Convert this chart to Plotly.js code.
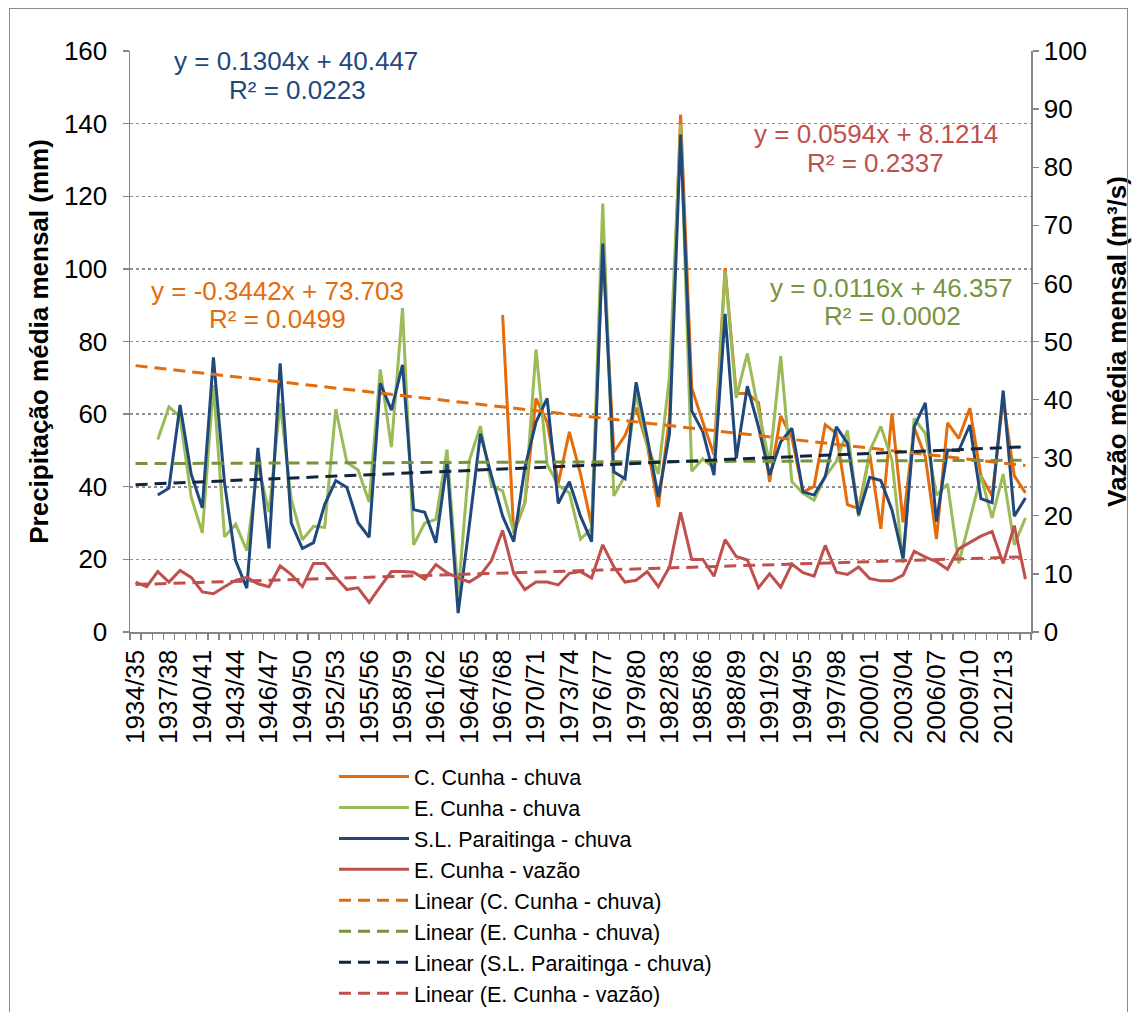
<!DOCTYPE html>
<html>
<head>
<meta charset="utf-8">
<script src="https://cdn.plot.ly/plotly-3.0.1.min.js"></script>
<style>
html,body{margin:0;padding:0;background:#ffffff;}
#chart{position:absolute;left:0;top:0;width:1132px;height:1012px;}
#frame{position:absolute;left:9px;top:8px;width:1117px;height:1010px;border:1px solid #8c8c8c;pointer-events:none;}
</style>
</head>
<body>
<div id="chart"></div>
<div id="frame"></div>
<script>
// ---------- DATA ----------
const categories = [
"1934/35","1935/36","1936/37","1937/38","1938/39","1939/40","1940/41","1941/42","1942/43","1943/44",
"1944/45","1945/46","1946/47","1947/48","1948/49","1949/50","1950/51","1951/52","1952/53","1953/54",
"1954/55","1955/56","1956/57","1957/58","1958/59","1959/60","1960/61","1961/62","1962/63","1963/64",
"1964/65","1965/66","1966/67","1967/68","1968/69","1969/70","1970/71","1971/72","1972/73","1973/74",
"1974/75","1975/76","1976/77","1977/78","1978/79","1979/80","1980/81","1981/82","1982/83","1983/84",
"1984/85","1985/86","1986/87","1987/88","1988/89","1989/90","1990/91","1991/92","1992/93","1993/94",
"1994/95","1995/96","1996/97","1997/98","1998/99","1999/00","2000/01","2001/02","2002/03","2003/04",
"2004/05","2005/06","2006/07","2007/08","2008/09","2009/10","2010/11","2011/12","2012/13","2013/14",
"2014/15"];

// C. Cunha - chuva (mm), starts 1967/68
const cCunhaChuva = [
null,null,null,null,null,null,null,null,null,null,
null,null,null,null,null,null,null,null,null,null,
null,null,null,null,null,null,null,null,null,null,
null,null,null,87.3,27.2,35.6,64.3,57.8,40.9,55.1,
43.5,29.3,106.0,49.5,54.1,61.8,51.4,34.4,59.3,142.5,
67.2,57.8,48.8,100.2,65.7,65.7,63.2,41.4,59.5,53.5,
38.5,40.1,57.1,54.7,35.1,34.0,49.0,28.4,60.2,30.2,
56.3,48.3,25.6,57.6,53.3,61.6,43.0,37.5,64.0,43.0,
38.3];

// E. Cunha - chuva (mm)
const eCunhaChuva = [
null,null,53.0,62.0,59.3,37.2,27.3,68.0,26.2,29.7,
22.4,46.0,33.0,63.0,36.5,25.4,29.1,28.8,61.4,46.7,
44.6,35.8,72.3,50.9,89.2,24.0,30.0,31.0,50.2,10.3,
47.2,56.7,40.4,38.8,27.7,35.6,77.8,46.2,40.4,38.3,
25.6,28.5,118.0,37.5,43.0,65.7,51.4,43.5,70.4,139.8,
44.3,47.7,45.1,99.4,64.5,76.7,61.0,46.4,76.0,41.4,
38.2,36.3,42.8,47.0,55.5,31.8,49.8,56.6,47.3,19.0,
58.8,54.7,37.7,40.8,18.9,31.2,43.0,31.4,43.5,24.0,
31.4];

// S.L. Paraitinga - chuva (mm)
const slParaitingaChuva = [
null,null,37.7,39.6,62.5,43.5,34.2,75.6,41.0,19.6,
12.1,50.7,23.0,74.0,30.0,23.0,24.6,35.1,41.7,39.8,
30.1,26.1,68.5,61.1,73.6,33.7,33.0,24.6,46.7,5.2,
29.3,54.6,43.0,31.9,24.9,45.3,57.8,64.3,35.4,41.4,
31.9,24.9,107.0,44.1,42.2,68.8,53.5,37.2,54.6,137.0,
60.9,55.1,43.2,87.6,47.8,67.7,56.5,43.2,52.4,56.1,
38.6,37.7,42.8,56.5,52.0,32.3,42.6,41.7,33.6,20.3,
56.5,63.1,30.4,50.1,49.9,57.0,36.7,35.6,66.5,31.9,
36.9];

// E. Cunha - vazão (m3/s), right axis
const eCunhaVazao = [
8.6,7.8,10.4,8.6,10.6,9.4,6.9,6.6,7.8,8.9,
9.4,8.3,7.8,11.4,9.9,7.8,11.8,11.8,9.4,7.3,
7.6,5.1,7.8,10.4,10.4,10.3,9.1,11.6,10.2,9.3,
8.6,9.8,12.3,17.5,10.1,7.3,8.6,8.6,8.1,10.1,
10.4,9.3,15.0,11.2,8.6,8.9,10.4,7.8,11.2,20.6,
12.5,12.5,9.6,15.9,13.0,12.4,7.6,10.0,7.7,11.7,
10.2,9.6,14.9,10.3,9.9,11.2,9.2,8.8,8.8,9.8,
13.9,12.9,12.1,10.8,14.3,15.4,16.5,17.3,11.8,18.3,
9.1];

const seriesNames = ["C. Cunha - chuva","E. Cunha - chuva","S.L. Paraitinga - chuva","E. Cunha - vazão"];
const trendNames = ["Linear (C. Cunha - chuva)","Linear (E. Cunha - chuva)","Linear (S.L. Paraitinga - chuva)","Linear (E. Cunha - vazão)"];
// Trendline equations as printed on the chart (x = 1 .. number of categories)
const trendSlope = [-0.3442, 0.0116, 0.1304, 0.0594];
const trendIntercept = [73.703, 46.357, 40.447, 8.1214];
const trendEq = ["y = -0.3442x + 73.703","y = 0.0116x + 46.357","y = 0.1304x + 40.447","y = 0.0594x + 8.1214"];
const trendR2 = ["R² = 0.0499","R² = 0.0002","R² = 0.0223","R² = 0.2337"];

// ---------- STYLE ----------
const FONT = "Arial, 'Liberation Sans', sans-serif";
const lineColors = ["#E46C0A","#9BBB59","#1F497D","#C0504D"];
const trendColors = ["#E46C0A","#77933C","#10253F","#C0504D"];
const eqColors = ["#E46C0A","#77933C","#1F497D","#C0504D"];
const axisGray = "#868686";

const idx = categories.map((c,i)=>i);
const seriesData = [cCunhaChuva, eCunhaChuva, slParaitingaChuva, eCunhaVazao];
const seriesAxis = ["y","y","y","y2"];

const traces = [];
seriesData.forEach((d,k)=>{
  traces.push({
    type:"scatter", mode:"lines", x: idx, y: d, name: seriesNames[k],
    yaxis: seriesAxis[k], connectgaps:false,
    line:{color: lineColors[k], width:3},
    hoverinfo:"x+y+name"
  });
});
const n = categories.length;
trendNames.forEach((nm,k)=>{
  const xs = [0, n-1];
  const ys = xs.map(i => trendSlope[k]*(i+1) + trendIntercept[k]);
  traces.push({
    type:"scatter", mode:"lines", x: xs, y: ys, name: nm,
    yaxis: seriesAxis[k],
    line:{color: trendColors[k], width:3, dash:"12px,7px"}
  });
});

// annotation placement helpers (pixel -> paper)
const PL=130, PR=1031, PT=51, PB=632;
const px = v => (v-PL)/(PR-PL);
const py = v => (PB-v)/(PB-PT);
// [eqCenterX, eqCenterY, r2CenterX, r2CenterY] per trend (C, E, SL, vazão)
const eqPos = [[277,291,277,319],[891,288,892,316],[296,61,297,90],[876,134,875,163]];
const annotations = [];
eqPos.forEach((p,k)=>{
  annotations.push({xref:"paper",yref:"paper",x:px(p[0]),y:py(p[1]),xanchor:"center",yanchor:"middle",
    text:trendEq[k],showarrow:false,font:{family:FONT,size:26,color:eqColors[k]}});
  annotations.push({xref:"paper",yref:"paper",x:px(p[2]),y:py(p[3]),xanchor:"center",yanchor:"middle",
    text:trendR2[k],showarrow:false,font:{family:FONT,size:26,color:eqColors[k]}});
});

const tickIdx = idx.filter(i => i%3===0);
const layout = {
  width:1132, height:1012,
  margin:{l:PL, r:1132-PR, t:PT, b:1012-PB, pad:0, autoexpand:false},
  paper_bgcolor:"#ffffff", plot_bgcolor:"#ffffff",
  font:{family:FONT, size:26, color:"#000000"},
  showlegend:true,
  legend:{x:px(334), y:py(756), xanchor:"left", yanchor:"top", orientation:"v",
    font:{family:FONT,size:21.5,color:"#000000"}, bgcolor:"rgba(0,0,0,0)", itemwidth:70,
    traceorder:"normal"},
  xaxis:{
    range:[-0.5, n-0.5], tickmode:"array", tickvals: tickIdx, ticktext: tickIdx.map(i=>categories[i]),
    tickangle:-90, ticks:"", showgrid:false, zeroline:false,
    showline:true, linecolor:axisGray, linewidth:1.5, ticklabelstandoff:6,
    tickfont:{family:FONT,size:26,color:"#000"},
    minor:{tickmode:"linear", tick0:-0.5, dtick:1, ticks:"outside", ticklen:6, tickcolor:axisGray, tickwidth:1.3, showgrid:false},
    automargin:false, fixedrange:true
  },
  yaxis:{
    range:[0,160], dtick:20, tick0:0, ticks:"outside", ticklen:6, tickcolor:axisGray, tickwidth:1.3,
    showline:true, linecolor:axisGray, linewidth:1.5,
    showgrid:true, gridcolor:"#8f8f8f", gridwidth:1.5, griddash:"dot", zeroline:false,
    ticklabelstandoff:10,
    tickfont:{family:FONT,size:26,color:"#000"},
    title:{text:"<b>Precipitação média mensal (mm)</b>", font:{family:FONT,size:26,color:"#000"}, standoff:8},
    automargin:false
  },
  yaxis2:{
    overlaying:"y", side:"right", range:[0,100], dtick:10, tick0:0,
    ticks:"outside", ticklen:6, tickcolor:axisGray, tickwidth:1.3,
    showline:true, linecolor:axisGray, linewidth:1.5, showgrid:false, zeroline:false,
    tickfont:{family:FONT,size:26,color:"#000"},
    title:{text:"<b>Vazão média mensal (m³/s)</b>", font:{family:FONT,size:26,color:"#000"}, standoff:27},
    automargin:false
  },
  annotations: annotations
};

Plotly.newPlot("chart", traces, layout, {displayModeBar:false, staticPlot:true});
</script>
</body>
</html>
